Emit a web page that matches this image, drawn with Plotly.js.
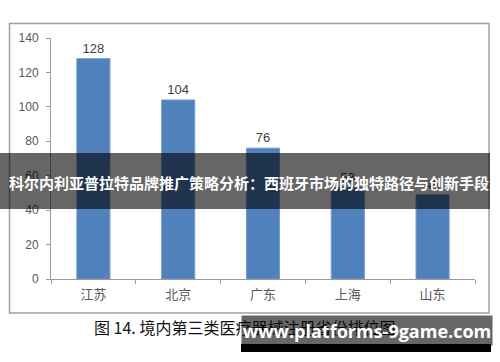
<!DOCTYPE html>
<html>
<head>
<meta charset="utf-8">
<script src="https://cdn.plot.ly/plotly-3.0.1.min.js"></script>
<style>html,body{margin:0;padding:0;background:#fff;}#chart{width:500px;height:362px;}</style>
</head>
<body>
<div id="chart"></div>
<script>
const categories = ['江苏', '北京', '广东', '上海', '山东'];
const values = [128, 104, 76, 53, 49];
const yTicks = [0, 20, 40, 60, 80, 100, 120, 140];
const overlayTitle = '科尔内利亚普拉特品牌推广策略分析：西班牙市场的独特路径与创新手段';
const caption = '图 14. 境内第三类医疗器械注册省份排位图';
const watermark = 'www.platforms-9game.com';

const W = 500, H = 362;
const px = x => x / W;
const py = y => 1 - y / H;

const trace = {
  type: 'bar',
  x: categories,
  y: values,
  text: values.map(String),
  textposition: 'outside',
  textfont: {family: 'Liberation Sans, Arial, sans-serif', size: 13, color: '#404040'},
  cliponaxis: false,
  marker: {color: '#4F81BD', line: {color: '#7399CB', width: 1}},
  hoverinfo: 'none'
};

const layout = {
  width: W, height: H,
  margin: {l: 0, r: 0, t: 0, b: 0},
  paper_bgcolor: '#ffffff',
  plot_bgcolor: 'rgba(0,0,0,0)',
  showlegend: false,
  bargap: 0.61,
  xaxis: {
    domain: [px(51), px(475)],
    type: 'category',
    showline: true, linecolor: '#9A9A9A', linewidth: 1,
    ticks: 'outside', tickson: 'boundaries', ticklen: 4, tickcolor: '#9A9A9A',
    tickfont: {family: 'Noto Sans CJK SC, sans-serif', size: 13, color: '#595959'},
    ticklabelstandoff: 3,
    showgrid: false, zeroline: false, fixedrange: true
  },
  yaxis: {
    domain: [py(279), py(38)],
    range: [0, 140],
    tickvals: yTicks,
    ticktext: yTicks.map(String),
    showline: true, linecolor: '#9A9A9A', linewidth: 1,
    ticks: 'outside', ticklen: 4, tickcolor: '#9A9A9A',
    tickfont: {family: 'Liberation Sans, Arial, sans-serif', size: 12, color: '#595959'},
    ticklabelstandoff: 5,
    showgrid: false, zeroline: false, fixedrange: true
  },
  shapes: [
    {type: 'rect', xref: 'paper', yref: 'paper', layer: 'below',
     x0: px(9.5), x1: px(489), y0: py(313), y1: py(23.5),
     line: {color: '#A0A0A0', width: 1.5}, fillcolor: 'rgba(0,0,0,0)'},
    {type: 'rect', xref: 'paper', yref: 'paper', layer: 'above',
     x0: px(0), x1: px(490), y0: py(209), y1: py(153),
     line: {width: 0}, fillcolor: 'rgba(0,0,0,0.6)'},
    {type: 'rect', xref: 'paper', yref: 'paper', layer: 'above',
     x0: px(241), x1: px(491), y0: py(352), y1: py(344),
     line: {width: 0}, fillcolor: '#000000'}
  ],
  annotations: [
    {xref: 'paper', yref: 'paper', x: px(249), y: py(182), xanchor: 'center', yanchor: 'middle',
     text: '<b>' + overlayTitle + '</b>', showarrow: false,
     font: {family: 'Noto Sans CJK SC, sans-serif', size: 15, color: '#ffffff'}},
    {xref: 'paper', yref: 'paper', x: px(92), y: py(327), xanchor: 'left', yanchor: 'middle',
     text: caption, showarrow: false,
     font: {family: 'Noto Sans CJK SC, sans-serif', size: 16, color: '#111111'}},
    {xref: 'paper', yref: 'paper', x: px(241), y: py(315), xanchor: 'left', yanchor: 'top',
     width: 250, height: 29, align: 'center', valign: 'middle',
     bgcolor: 'rgba(0,0,0,0.6)', borderpad: 0,
     text: '<b>' + watermark + '</b>', showarrow: false,
     font: {family: 'Open Sans, DejaVu Sans, sans-serif', size: 18, color: '#ffffff'}}
  ]
};

Plotly.newPlot('chart', [trace], layout, {displayModeBar: false, staticPlot: true});
</script>
</body>
</html>
